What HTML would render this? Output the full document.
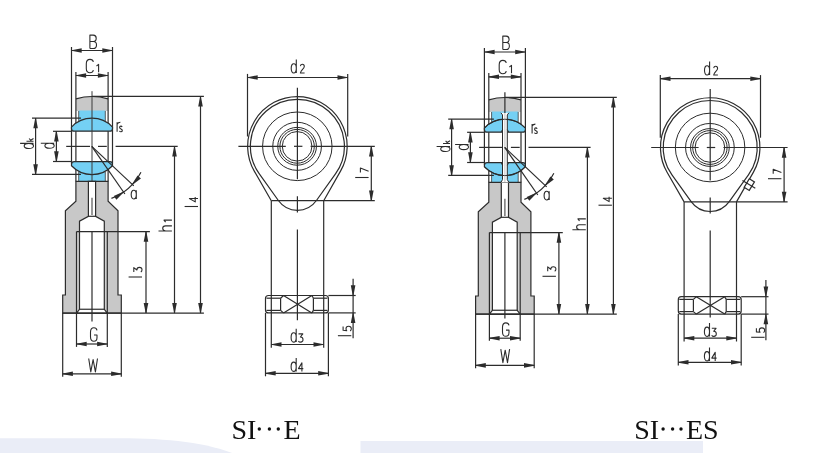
<!DOCTYPE html><html><head><meta charset="utf-8"><style>html,body{margin:0;padding:0;background:#fff;overflow:hidden}svg{display:block}.cap{filter:grayscale(1)}</style></head><body><svg width="840" height="453" viewBox="0 0 840 453"><defs><filter id="bl" x="-5%" y="-50%" width="110%" height="200%"><feGaussianBlur stdDeviation="0.7"/></filter></defs><g filter="url(#bl)"><path d="M-5,438.2L120,438.2C168,438.2 208,442.5 237,455L-5,456Z" fill="#eaedf7"/><rect x="360.5" y="441" width="342.5" height="15" fill="#eaedf7"/></g><g><path d="M75.9,98.9Q92.0,94.1 108.1,98.9V111H75.9Z" fill="#c8c8c8"/><path d="M75.9,98.9Q92.0,94.1 108.1,98.9" fill="none" stroke="#2c2c2c" stroke-width="1.2"/><rect x="78.7" y="110.5" width="26.6" height="16" fill="#74d0f4"/><rect x="78.7" y="166" width="26.6" height="15.6" fill="#74d0f4"/><line x1="78.7" y1="111" x2="78.7" y2="121" stroke="#3a3a3a" stroke-width="0.8"/><line x1="105.3" y1="111" x2="105.3" y2="121" stroke="#3a3a3a" stroke-width="0.8"/><line x1="78.7" y1="172" x2="78.7" y2="181.4" stroke="#3a3a3a" stroke-width="0.8"/><line x1="105.3" y1="172" x2="105.3" y2="181.4" stroke="#3a3a3a" stroke-width="0.8"/><line x1="71.5" y1="47" x2="71.5" y2="164" stroke="#2c2c2c" stroke-width="1.2"/><line x1="112.5" y1="47" x2="112.5" y2="164" stroke="#2c2c2c" stroke-width="1.2"/><line x1="75.9" y1="72" x2="75.9" y2="181.4" stroke="#2c2c2c" stroke-width="1.2"/><line x1="108.1" y1="72" x2="108.1" y2="181.4" stroke="#2c2c2c" stroke-width="1.2"/><path d="M74.2,131.2Q71.5,131.2 71.5,128.4L71.5,127.04A28.2,28.2 0 0 1 112.5,127.04L112.5,128.4Q112.5,131.2 109.8,131.2Z" fill="#74d0f4" stroke="#2c2c2c" stroke-width="1.2"/><path d="M74.2,161.6Q71.5,161.6 71.5,164.4L71.5,165.76A28.2,28.2 0 0 0 112.5,165.76L112.5,164.4Q112.5,161.6 109.8,161.6Z" fill="#74d0f4" stroke="#2c2c2c" stroke-width="1.2"/><path d="M75.9,181.4L108.1,181.4L108.1,201.3L118,210.8L118,295L121.3,295L121.3,313.1L62.7,313.1L62.7,295L65.4,295L65.4,210.8L75.9,201.3Z" fill="#c8c8c8" stroke="#2c2c2c" stroke-width="1.2"/><rect x="76.5" y="231.6" width="30.8" height="81.5" fill="#d0d0d0"/><path d="M88.4,181.4L95.6,181.4L95.6,216.3L104.3,221.1L104.3,309.25L107.3,313.1L76.5,313.1L79.5,309.25L79.5,221.1L88.4,216.3Z" fill="#ffffff" stroke="#2c2c2c" stroke-width="1.2"/><line x1="88.4" y1="216.3" x2="95.6" y2="216.3" stroke="#2c2c2c" stroke-width="1.2"/><line x1="76.5" y1="231.6" x2="76.5" y2="313.1" stroke="#2c2c2c" stroke-width="1.2"/><line x1="107.3" y1="231.6" x2="107.3" y2="313.1" stroke="#2c2c2c" stroke-width="1.2"/><line x1="79.5" y1="309.25" x2="104.3" y2="309.25" stroke="#2c2c2c" stroke-width="1.2"/><line x1="71.5" y1="50.5" x2="112.5" y2="50.5" stroke="#2c2c2c" stroke-width="1.2"/><polygon points="71.5,50.15 81.7,48.2 81.7,52.8 71.5,50.85" fill="#2c2c2c"/><polygon points="112.5,50.85 102.3,52.8 102.3,48.2 112.5,50.15" fill="#2c2c2c"/><line x1="75.9" y1="75.5" x2="108.1" y2="75.5" stroke="#2c2c2c" stroke-width="1.2"/><polygon points="75.9,75.15 86.1,73.2 86.1,77.8 75.9,75.85" fill="#2c2c2c"/><polygon points="108.1,75.85 97.9,77.8 97.9,73.2 108.1,75.15" fill="#2c2c2c"/><line x1="92" y1="91.2" x2="92" y2="181.4" stroke="#3a3a3a" stroke-width="1.0"/><line x1="92" y1="197.8" x2="92" y2="215" stroke="#555" stroke-width="1.2"/><line x1="92" y1="231.6" x2="92" y2="321.5" stroke="#2c2c2c" stroke-width="1.2"/><line x1="66.2" y1="146.4" x2="90" y2="146.4" stroke="#2c2c2c" stroke-width="1.2"/><line x1="98" y1="146.4" x2="106.8" y2="146.4" stroke="#2c2c2c" stroke-width="1.2"/><line x1="115.6" y1="146.4" x2="177.7" y2="146.4" stroke="#2c2c2c" stroke-width="1.2"/><line x1="92" y1="96.45" x2="203.9" y2="96.45" stroke="#2c2c2c" stroke-width="1.2"/><line x1="32" y1="118.1" x2="81" y2="118.1" stroke="#2c2c2c" stroke-width="1.2"/><line x1="32" y1="174.4" x2="81" y2="174.4" stroke="#2c2c2c" stroke-width="1.2"/><line x1="53" y1="131.3" x2="72" y2="131.3" stroke="#2c2c2c" stroke-width="1.2"/><line x1="53" y1="161.5" x2="72" y2="161.5" stroke="#2c2c2c" stroke-width="1.2"/><line x1="35.6" y1="118.1" x2="35.6" y2="174.4" stroke="#2c2c2c" stroke-width="1.2"/><polygon points="35.95,118.1 37.9,128.3 33.3,128.3 35.25,118.1" fill="#2c2c2c"/><polygon points="35.25,174.4 33.3,164.2 37.9,164.2 35.95,174.4" fill="#2c2c2c"/><line x1="56.4" y1="131.3" x2="56.4" y2="161.5" stroke="#2c2c2c" stroke-width="1.2"/><polygon points="56.75,131.3 58.7,141.5 54.1,141.5 56.05,131.3" fill="#2c2c2c"/><polygon points="56.05,161.5 54.1,151.3 58.7,151.3 56.75,161.5" fill="#2c2c2c"/><line x1="76.5" y1="231.6" x2="149.9" y2="231.6" stroke="#2c2c2c" stroke-width="1.2"/><line x1="62.7" y1="313.1" x2="203.9" y2="313.1" stroke="#2c2c2c" stroke-width="1.2"/><line x1="146" y1="231.6" x2="146" y2="313.1" stroke="#2c2c2c" stroke-width="1.2"/><polygon points="146.35,231.6 148.3,241.8 143.7,241.8 145.65,231.6" fill="#2c2c2c"/><polygon points="145.65,313.1 143.7,302.9 148.3,302.9 146.35,313.1" fill="#2c2c2c"/><line x1="174.5" y1="146.4" x2="174.5" y2="313.1" stroke="#2c2c2c" stroke-width="1.2"/><polygon points="174.85,146.4 176.8,156.6 172.2,156.6 174.15,146.4" fill="#2c2c2c"/><polygon points="174.15,313.1 172.2,302.9 176.8,302.9 174.85,313.1" fill="#2c2c2c"/><line x1="200.5" y1="96.4" x2="200.5" y2="313.1" stroke="#2c2c2c" stroke-width="1.2"/><polygon points="200.85,96.4 202.8,106.6 198.2,106.6 200.15,96.4" fill="#2c2c2c"/><polygon points="200.15,313.1 198.2,302.9 202.8,302.9 200.85,313.1" fill="#2c2c2c"/><line x1="76.5" y1="313.1" x2="76.5" y2="346.9" stroke="#2c2c2c" stroke-width="1.2"/><line x1="107.3" y1="313.1" x2="107.3" y2="346.9" stroke="#2c2c2c" stroke-width="1.2"/><line x1="76.5" y1="344" x2="107.3" y2="344" stroke="#2c2c2c" stroke-width="1.2"/><polygon points="76.5,343.65 86.7,341.7 86.7,346.3 76.5,344.35" fill="#2c2c2c"/><polygon points="107.3,344.35 97.1,346.3 97.1,341.7 107.3,343.65" fill="#2c2c2c"/><line x1="62.7" y1="313.1" x2="62.7" y2="376.7" stroke="#2c2c2c" stroke-width="1.2"/><line x1="121.3" y1="313.1" x2="121.3" y2="376.7" stroke="#2c2c2c" stroke-width="1.2"/><line x1="62.7" y1="373.8" x2="121.3" y2="373.8" stroke="#2c2c2c" stroke-width="1.2"/><polygon points="62.7,373.45 72.9,371.5 72.9,376.1 62.7,374.15" fill="#2c2c2c"/><polygon points="121.3,374.15 111.1,376.1 111.1,371.5 121.3,373.45" fill="#2c2c2c"/><line x1="91.8" y1="146.4" x2="124.9" y2="194.03" stroke="#2c2c2c" stroke-width="1.2"/><line x1="91.8" y1="146.4" x2="133.79" y2="185.83" stroke="#2c2c2c" stroke-width="1.2"/><path d="M111.42,198.32A55.5,55.5 0 0 0 140.94,172.2" fill="none" stroke="#2c2c2c" stroke-width="1.2"/><polygon points="123.67,192.26 116.41,199.68 113.79,195.91 123.27,191.69" fill="#2c2c2c"/><polygon points="132,184.15 137.56,175.38 140.92,178.53 132.51,184.63" fill="#2c2c2c"/><path d="M0.5,0V-13.4H3.9C6.2,-13.4 6.8,-12 6.8,-10.3C6.8,-8.4 5.8,-7 3.9,-7H0.5M3.9,-7C6.2,-7 7.1,-5.6 7.1,-3.6C7.1,-1.4 6,0 3.9,0H0.5" transform="translate(89.4,48.5)" fill="none" stroke="#2c2c2c" stroke-width="1.10" stroke-linejoin="round"/><path d="M7.6,-10.9C7.2,-12.7 6,-13.4 4.2,-13.4C1.8,-13.4 0.5,-12 0.5,-9V-4.4C0.5,-1.4 1.8,0 4.2,0C6,0 7.2,-0.8 7.6,-2.6" transform="translate(85.8,72.8)" fill="none" stroke="#2c2c2c" stroke-width="1.10" stroke-linejoin="round"/><path d="M0.3,-6.3L2.4,-7.9V0" transform="translate(96.2,72.3)" fill="none" stroke="#2c2c2c" stroke-width="1.10" stroke-linejoin="round"/><path d="M5.6,-13.4V0M5.6,-4.7C5.6,-7.4 4.6,-9.3 3.05,-9.3C1.5,-9.3 0.5,-7.4 0.5,-4.7C0.5,-1.9 1.5,0 3.05,0C4.6,0 5.6,-1.9 5.6,-4.7" transform="translate(33.5,149) rotate(-90)" fill="none" stroke="#2c2c2c" stroke-width="1.10" stroke-linejoin="round"/><path d="M0.5,-7V0M3.2,-4.4L0.6,-2M1.5,-2.8L3.2,0" transform="translate(33.5,141.7) rotate(-90)" fill="none" stroke="#2c2c2c" stroke-width="1.10" stroke-linejoin="round"/><path d="M5.6,-13.4V0M5.6,-4.7C5.6,-7.4 4.6,-9.3 3.05,-9.3C1.5,-9.3 0.5,-7.4 0.5,-4.7C0.5,-1.9 1.5,0 3.05,0C4.6,0 5.6,-1.9 5.6,-4.7" transform="translate(54.2,148.8) rotate(-90)" fill="none" stroke="#2c2c2c" stroke-width="1.10" stroke-linejoin="round"/><path d="M0.5,-9.4V0M0.5,-7.6C1.2,-8.8 2.4,-9.4 3.8,-9.4" transform="translate(116.6,131.7)" fill="none" stroke="#2c2c2c" stroke-width="1.10" stroke-linejoin="round"/><path d="M2.9,-4.7C2.7,-5.3 2.3,-5.6 1.6,-5.6C0.9,-5.6 0.4,-5.1 0.4,-4.2C0.4,-2.4 3.1,-3.1 3.1,-1.3C3.1,-0.4 2.6,0 1.7,0C1,0 0.5,-0.3 0.3,-0.9" transform="translate(119.2,131.7)" fill="none" stroke="#2c2c2c" stroke-width="1.10" stroke-linejoin="round"/><path d="M5.6,-8.8V0M5.6,-4.4C5.6,-7.1 4.6,-8.8 3.05,-8.8C1.5,-8.8 0.5,-7.1 0.5,-4.4C0.5,-1.7 1.5,0 3.05,0C4.6,0 5.6,-1.7 5.6,-4.4" transform="translate(130.7,199)" fill="none" stroke="#2c2c2c" stroke-width="1.10" stroke-linejoin="round"/><path d="M0.5,-13.4V0M0.5,-6.2C0.9,-8.5 2,-9.2 3.2,-9.2C4.7,-9.2 5.6,-8.4 5.6,-6.4V0" transform="translate(171.9,231.5) rotate(-90)" fill="none" stroke="#2c2c2c" stroke-width="1.10" stroke-linejoin="round"/><path d="M0.3,-6.3L2.4,-7.9V0" transform="translate(171.9,222.5) rotate(-90)" fill="none" stroke="#2c2c2c" stroke-width="1.10" stroke-linejoin="round"/><path d="M0.5,0V-13.4" transform="translate(198,207) rotate(-90)" fill="none" stroke="#2c2c2c" stroke-width="1.10" stroke-linejoin="round"/><path d="M3.9,0V-8.6L0.5,-2.8H5.3" transform="translate(198,202.4) rotate(-90)" fill="none" stroke="#2c2c2c" stroke-width="1.10" stroke-linejoin="round"/><path d="M0.5,0V-13.4" transform="translate(142,277.5) rotate(-90)" fill="none" stroke="#2c2c2c" stroke-width="1.10" stroke-linejoin="round"/><path d="M0.5,-8.2H4.8L2.4,-5.1C4.3,-5.1 5,-3.9 5,-2.6C5,-0.9 4,0 2.6,0C1.5,0 0.8,-0.4 0.4,-1.2" transform="translate(142,272.4) rotate(-90)" fill="none" stroke="#2c2c2c" stroke-width="1.10" stroke-linejoin="round"/><path d="M7,-10.9C6.7,-12.6 5.6,-13.4 3.9,-13.4C1.6,-13.4 0.5,-12 0.5,-9V-4.4C0.5,-1.4 1.6,0 3.9,0C5.9,0 7,-1.3 7,-3.8V-6.2H4" transform="translate(90,341.2)" fill="none" stroke="#2c2c2c" stroke-width="1.10" stroke-linejoin="round"/><path d="M0.3,-13.4L2.4,0L4.7,-12.4L7,0L9.1,-13.4" transform="translate(88.4,371.9)" fill="none" stroke="#2c2c2c" stroke-width="1.10" stroke-linejoin="round"/></g><g><path d="M271.3,200.7L254.28,171.11A49.75,49.75 0 1 1 340.65,170.89L323.7,200.7" fill="none" stroke="#2c2c2c" stroke-width="1.2"/><path d="M259.16,173.62A47.0,47.0 0 1 1 335.64,173.62L316.44,200.5A23.4,23.4 0 0 1 278.36,200.5Z" fill="none" stroke="#2c2c2c" stroke-width="1.2"/><ellipse cx="297.3" cy="146.3" rx="34.75" ry="34.3" fill="none" stroke="#2c2c2c" stroke-width="1.0"/><ellipse cx="297.1" cy="146.3" rx="24.35" ry="24.05" fill="none" stroke="#2c2c2c" stroke-width="1.0"/><ellipse cx="297.1" cy="146.3" rx="19.35" ry="18.9" fill="none" stroke="#2c2c2c" stroke-width="1.0"/><ellipse cx="297.1" cy="146.3" rx="17.2" ry="16.9" fill="none" stroke="#2c2c2c" stroke-width="1.0"/><ellipse cx="297.1" cy="146.3" rx="14.85" ry="14.75" fill="none" stroke="#2c2c2c" stroke-width="1.0"/><line x1="271.3" y1="200.7" x2="271.3" y2="347.8" stroke="#2c2c2c" stroke-width="1.2"/><line x1="323.7" y1="200.7" x2="323.7" y2="347.8" stroke="#2c2c2c" stroke-width="1.2"/><line x1="271.3" y1="200.7" x2="374.8" y2="200.7" stroke="#2c2c2c" stroke-width="1.2"/><line x1="238.4" y1="146.3" x2="285.8" y2="146.3" stroke="#2c2c2c" stroke-width="1.2"/><line x1="294" y1="146.3" x2="302.4" y2="146.3" stroke="#2c2c2c" stroke-width="1.2"/><line x1="310.6" y1="146.3" x2="374.8" y2="146.3" stroke="#2c2c2c" stroke-width="1.2"/><line x1="297.4" y1="87.8" x2="297.4" y2="179.2" stroke="#2c2c2c" stroke-width="1.2"/><line x1="297.4" y1="196.2" x2="297.4" y2="212.4" stroke="#2c2c2c" stroke-width="1.2"/><line x1="297.4" y1="229.4" x2="297.4" y2="320.3" stroke="#2c2c2c" stroke-width="1.2"/><line x1="247.5" y1="73.9" x2="247.5" y2="136.5" stroke="#2c2c2c" stroke-width="1.2"/><line x1="347.7" y1="73.9" x2="347.7" y2="136.5" stroke="#2c2c2c" stroke-width="1.2"/><line x1="247.5" y1="77.5" x2="347.7" y2="77.5" stroke="#2c2c2c" stroke-width="1.2"/><polygon points="247.5,77.15 257.7,75.2 257.7,79.8 247.5,77.85" fill="#2c2c2c"/><polygon points="347.7,77.85 337.5,79.8 337.5,75.2 347.7,77.15" fill="#2c2c2c"/><line x1="371.3" y1="146.3" x2="371.3" y2="200.7" stroke="#2c2c2c" stroke-width="1.2"/><polygon points="371.65,146.3 373.6,156.5 369,156.5 370.95,146.3" fill="#2c2c2c"/><polygon points="370.95,200.7 369,190.5 373.6,190.5 371.65,200.7" fill="#2c2c2c"/><path d="M268.5,295.5H325.4Q328.4,295.5 328.4,298.5V309.9Q328.4,312.9 325.4,312.9H268.5Q265.5,312.9 265.5,309.9V298.5Q265.5,295.5 268.5,295.5Z" fill="none" stroke="#2c2c2c" stroke-width="1.2"/><line x1="328.4" y1="295.5" x2="355.7" y2="295.5" stroke="#2c2c2c" stroke-width="1.2"/><line x1="328.4" y1="312.9" x2="355.7" y2="312.9" stroke="#2c2c2c" stroke-width="1.2"/><line x1="266.5" y1="298.2" x2="280.6" y2="298.2" stroke="#2c2c2c" stroke-width="1.2"/><line x1="266.5" y1="310.4" x2="280.6" y2="310.4" stroke="#2c2c2c" stroke-width="1.2"/><line x1="313.4" y1="298.2" x2="327.4" y2="298.2" stroke="#2c2c2c" stroke-width="1.2"/><line x1="313.4" y1="310.4" x2="327.4" y2="310.4" stroke="#2c2c2c" stroke-width="1.2"/><line x1="280.6" y1="298.2" x2="280.6" y2="310.4" stroke="#2c2c2c" stroke-width="1.2"/><line x1="313.4" y1="298.2" x2="313.4" y2="310.4" stroke="#2c2c2c" stroke-width="1.2"/><line x1="280.6" y1="298.2" x2="283.5" y2="295.5" stroke="#2c2c2c" stroke-width="1.2"/><line x1="280.6" y1="310.4" x2="283.5" y2="312.9" stroke="#2c2c2c" stroke-width="1.2"/><line x1="313.4" y1="298.2" x2="311.9" y2="295.5" stroke="#2c2c2c" stroke-width="1.2"/><line x1="313.4" y1="310.4" x2="311.9" y2="312.9" stroke="#2c2c2c" stroke-width="1.2"/><line x1="283.5" y1="295.5" x2="311.9" y2="312.9" stroke="#2c2c2c" stroke-width="1.2"/><line x1="283.5" y1="312.9" x2="311.9" y2="295.5" stroke="#2c2c2c" stroke-width="1.2"/><line x1="271.3" y1="344.5" x2="323.7" y2="344.5" stroke="#2c2c2c" stroke-width="1.2"/><polygon points="271.3,344.15 281.5,342.2 281.5,346.8 271.3,344.85" fill="#2c2c2c"/><polygon points="323.7,344.85 313.5,346.8 313.5,342.2 323.7,344.15" fill="#2c2c2c"/><line x1="265.5" y1="312.9" x2="265.5" y2="376.3" stroke="#2c2c2c" stroke-width="1.2"/><line x1="328.4" y1="312.9" x2="328.4" y2="376.3" stroke="#2c2c2c" stroke-width="1.2"/><line x1="265.5" y1="373.3" x2="328.4" y2="373.3" stroke="#2c2c2c" stroke-width="1.2"/><polygon points="265.5,372.95 275.7,371 275.7,375.6 265.5,373.65" fill="#2c2c2c"/><polygon points="328.4,373.65 318.2,375.6 318.2,371 328.4,372.95" fill="#2c2c2c"/><line x1="353.1" y1="278.8" x2="353.1" y2="338.2" stroke="#2c2c2c" stroke-width="1.2"/><polygon points="352.75,295.5 350.8,285.3 355.4,285.3 353.45,295.5" fill="#2c2c2c"/><polygon points="353.45,312.9 355.4,323.1 350.8,323.1 352.75,312.9" fill="#2c2c2c"/><path d="M5.6,-13.4V0M5.6,-4.7C5.6,-7.4 4.6,-9.3 3.05,-9.3C1.5,-9.3 0.5,-7.4 0.5,-4.7C0.5,-1.9 1.5,0 3.05,0C4.6,0 5.6,-1.9 5.6,-4.7" transform="translate(290.7,73)" fill="none" stroke="#2c2c2c" stroke-width="1.10" stroke-linejoin="round"/><path d="M0.5,-6.9C0.7,-8.3 1.5,-8.8 2.5,-8.8C3.7,-8.8 4.4,-8 4.4,-6.6C4.4,-4.6 0.5,-2 0.5,0H4.7" transform="translate(299.9,73)" fill="none" stroke="#2c2c2c" stroke-width="1.10" stroke-linejoin="round"/><path d="M0.5,0V-13.4" transform="translate(368.6,178) rotate(-90)" fill="none" stroke="#2c2c2c" stroke-width="1.10" stroke-linejoin="round"/><path d="M0.4,-8.2H5L1.8,0" transform="translate(368.6,173) rotate(-90)" fill="none" stroke="#2c2c2c" stroke-width="1.10" stroke-linejoin="round"/><path d="M5.6,-13.4V0M5.6,-4.7C5.6,-7.4 4.6,-9.3 3.05,-9.3C1.5,-9.3 0.5,-7.4 0.5,-4.7C0.5,-1.9 1.5,0 3.05,0C4.6,0 5.6,-1.9 5.6,-4.7" transform="translate(290.6,342.1)" fill="none" stroke="#2c2c2c" stroke-width="1.10" stroke-linejoin="round"/><path d="M0.5,-8.2H4.8L2.4,-5.1C4.3,-5.1 5,-3.9 5,-2.6C5,-0.9 4,0 2.6,0C1.5,0 0.8,-0.4 0.4,-1.2" transform="translate(298,342.1)" fill="none" stroke="#2c2c2c" stroke-width="1.10" stroke-linejoin="round"/><path d="M5.6,-13.4V0M5.6,-4.7C5.6,-7.4 4.6,-9.3 3.05,-9.3C1.5,-9.3 0.5,-7.4 0.5,-4.7C0.5,-1.9 1.5,0 3.05,0C4.6,0 5.6,-1.9 5.6,-4.7" transform="translate(290.6,371.4)" fill="none" stroke="#2c2c2c" stroke-width="1.10" stroke-linejoin="round"/><path d="M3.9,0V-8.6L0.5,-2.8H5.3" transform="translate(298,371.4)" fill="none" stroke="#2c2c2c" stroke-width="1.10" stroke-linejoin="round"/><path d="M0.5,0V-13.4" transform="translate(351.3,336.2) rotate(-90)" fill="none" stroke="#2c2c2c" stroke-width="1.10" stroke-linejoin="round"/><path d="M4.8,-8.2H1.1L0.8,-4.6C1.3,-5.1 2,-5.3 2.7,-5.3C4.2,-5.3 5.1,-4.2 5.1,-2.7C5.1,-1 4.1,0 2.6,0C1.6,0 0.9,-0.4 0.4,-1.1" transform="translate(351.3,331.4) rotate(-90)" fill="none" stroke="#2c2c2c" stroke-width="1.10" stroke-linejoin="round"/></g><g transform="translate(412.9,1)"><path d="M75.9,98.9Q92.0,94.1 108.1,98.9V111H75.9Z" fill="#c8c8c8"/><path d="M75.9,98.9Q92.0,94.1 108.1,98.9" fill="none" stroke="#2c2c2c" stroke-width="1.2"/><rect x="78.7" y="110.5" width="26.6" height="16" fill="#74d0f4"/><rect x="78.7" y="166" width="26.6" height="15.6" fill="#74d0f4"/><line x1="78.7" y1="111" x2="78.7" y2="121" stroke="#3a3a3a" stroke-width="0.8"/><line x1="105.3" y1="111" x2="105.3" y2="121" stroke="#3a3a3a" stroke-width="0.8"/><line x1="78.7" y1="172" x2="78.7" y2="181.4" stroke="#3a3a3a" stroke-width="0.8"/><line x1="105.3" y1="172" x2="105.3" y2="181.4" stroke="#3a3a3a" stroke-width="0.8"/><line x1="71.5" y1="47" x2="71.5" y2="164" stroke="#2c2c2c" stroke-width="1.2"/><line x1="112.5" y1="47" x2="112.5" y2="164" stroke="#2c2c2c" stroke-width="1.2"/><line x1="75.9" y1="72" x2="75.9" y2="181.4" stroke="#2c2c2c" stroke-width="1.2"/><line x1="108.1" y1="72" x2="108.1" y2="181.4" stroke="#2c2c2c" stroke-width="1.2"/><path d="M74.2,131.2Q71.5,131.2 71.5,128.4L71.5,127.04A28.2,28.2 0 0 1 112.5,127.04L112.5,128.4Q112.5,131.2 109.8,131.2Z" fill="#74d0f4" stroke="#2c2c2c" stroke-width="1.2"/><path d="M74.2,161.6Q71.5,161.6 71.5,164.4L71.5,165.76A28.2,28.2 0 0 0 112.5,165.76L112.5,164.4Q112.5,161.6 109.8,161.6Z" fill="#74d0f4" stroke="#2c2c2c" stroke-width="1.2"/><path d="M75.9,181.4L108.1,181.4L108.1,201.3L118,210.8L118,295L121.3,295L121.3,313.1L62.7,313.1L62.7,295L65.4,295L65.4,210.8L75.9,201.3Z" fill="#c8c8c8" stroke="#2c2c2c" stroke-width="1.2"/><rect x="76.5" y="231.6" width="30.8" height="81.5" fill="#d0d0d0"/><path d="M88.4,181.4L95.6,181.4L95.6,216.3L104.3,221.1L104.3,309.25L107.3,313.1L76.5,313.1L79.5,309.25L79.5,221.1L88.4,216.3Z" fill="#ffffff" stroke="#2c2c2c" stroke-width="1.2"/><line x1="88.4" y1="216.3" x2="95.6" y2="216.3" stroke="#2c2c2c" stroke-width="1.2"/><line x1="76.5" y1="231.6" x2="76.5" y2="313.1" stroke="#2c2c2c" stroke-width="1.2"/><line x1="107.3" y1="231.6" x2="107.3" y2="313.1" stroke="#2c2c2c" stroke-width="1.2"/><line x1="79.5" y1="309.25" x2="104.3" y2="309.25" stroke="#2c2c2c" stroke-width="1.2"/><polygon points="88,111.8 96,111.8 94.4,113.9 94.4,178.6 96,181.4 88,181.4 89.6,178.6 89.6,113.9" fill="#fff"/><path d="M88.0,111.8L89.6,113.9V178.6L88.0,181.4M96.0,111.8L94.4,113.9V178.6L96.0,181.4" fill="none" stroke="#2c2c2c" stroke-width="1.0"/><path d="M88.0,131.2L89.6,128.6M96.0,131.2L94.4,128.6M88.0,161.6L89.6,164.2M96.0,161.6L94.4,164.2" fill="none" stroke="#2c2c2c" stroke-width="0.9"/><path d="M71.5,127.04A28.2,28.2 0 0 1 112.5,127.04M71.5,165.76A28.2,28.2 0 0 0 112.5,165.76" fill="none" stroke="#2c2c2c" stroke-width="1.0"/><line x1="71.5" y1="51" x2="112.5" y2="51" stroke="#2c2c2c" stroke-width="1.2"/><polygon points="71.5,50.65 81.7,48.7 81.7,53.3 71.5,51.35" fill="#2c2c2c"/><polygon points="112.5,51.35 102.3,53.3 102.3,48.7 112.5,50.65" fill="#2c2c2c"/><line x1="75.9" y1="75.8" x2="108.1" y2="75.8" stroke="#2c2c2c" stroke-width="1.2"/><polygon points="75.9,75.45 86.1,73.5 86.1,78.1 75.9,76.15" fill="#2c2c2c"/><polygon points="108.1,76.15 97.9,78.1 97.9,73.5 108.1,75.45" fill="#2c2c2c"/><line x1="92" y1="91.2" x2="92" y2="112" stroke="#2c2c2c" stroke-width="1.2"/><line x1="92" y1="112" x2="92" y2="181.4" stroke="#999" stroke-width="0.6"/><line x1="92" y1="197.8" x2="92" y2="215" stroke="#555" stroke-width="1.2"/><line x1="92" y1="231.6" x2="92" y2="317.6" stroke="#2c2c2c" stroke-width="1.2"/><line x1="66.2" y1="146.4" x2="90" y2="146.4" stroke="#2c2c2c" stroke-width="1.2"/><line x1="98" y1="146.4" x2="106.8" y2="146.4" stroke="#2c2c2c" stroke-width="1.2"/><line x1="115.6" y1="146.4" x2="177.7" y2="146.4" stroke="#2c2c2c" stroke-width="1.2"/><line x1="92" y1="96.45" x2="203.9" y2="96.45" stroke="#2c2c2c" stroke-width="1.2"/><line x1="35.3" y1="118.1" x2="81" y2="118.1" stroke="#2c2c2c" stroke-width="1.2"/><line x1="35.3" y1="174.4" x2="81" y2="174.4" stroke="#2c2c2c" stroke-width="1.2"/><line x1="54.2" y1="131.3" x2="72" y2="131.3" stroke="#2c2c2c" stroke-width="1.2"/><line x1="54.2" y1="161.5" x2="72" y2="161.5" stroke="#2c2c2c" stroke-width="1.2"/><line x1="38.7" y1="118.1" x2="38.7" y2="174.4" stroke="#2c2c2c" stroke-width="1.2"/><polygon points="39.05,118.1 41,128.3 36.4,128.3 38.35,118.1" fill="#2c2c2c"/><polygon points="38.35,174.4 36.4,164.2 41,164.2 39.05,174.4" fill="#2c2c2c"/><line x1="57.5" y1="131.3" x2="57.5" y2="161.5" stroke="#2c2c2c" stroke-width="1.2"/><polygon points="57.85,131.3 59.8,141.5 55.2,141.5 57.15,131.3" fill="#2c2c2c"/><polygon points="57.15,161.5 55.2,151.3 59.8,151.3 57.85,161.5" fill="#2c2c2c"/><line x1="76.5" y1="231.6" x2="149.9" y2="231.6" stroke="#2c2c2c" stroke-width="1.2"/><line x1="62.7" y1="313.1" x2="203.9" y2="313.1" stroke="#2c2c2c" stroke-width="1.2"/><line x1="146" y1="231.6" x2="146" y2="313.1" stroke="#2c2c2c" stroke-width="1.2"/><polygon points="146.35,231.6 148.3,241.8 143.7,241.8 145.65,231.6" fill="#2c2c2c"/><polygon points="145.65,313.1 143.7,302.9 148.3,302.9 146.35,313.1" fill="#2c2c2c"/><line x1="174.5" y1="146.4" x2="174.5" y2="313.1" stroke="#2c2c2c" stroke-width="1.2"/><polygon points="174.85,146.4 176.8,156.6 172.2,156.6 174.15,146.4" fill="#2c2c2c"/><polygon points="174.15,313.1 172.2,302.9 176.8,302.9 174.85,313.1" fill="#2c2c2c"/><line x1="200.5" y1="96.4" x2="200.5" y2="313.1" stroke="#2c2c2c" stroke-width="1.2"/><polygon points="200.85,96.4 202.8,106.6 198.2,106.6 200.15,96.4" fill="#2c2c2c"/><polygon points="200.15,313.1 198.2,302.9 202.8,302.9 200.85,313.1" fill="#2c2c2c"/><line x1="76.5" y1="313.1" x2="76.5" y2="339.7" stroke="#2c2c2c" stroke-width="1.2"/><line x1="107.3" y1="313.1" x2="107.3" y2="339.7" stroke="#2c2c2c" stroke-width="1.2"/><line x1="76.5" y1="337.2" x2="107.3" y2="337.2" stroke="#2c2c2c" stroke-width="1.2"/><polygon points="76.5,336.85 86.7,334.9 86.7,339.5 76.5,337.55" fill="#2c2c2c"/><polygon points="107.3,337.55 97.1,339.5 97.1,334.9 107.3,336.85" fill="#2c2c2c"/><line x1="62.7" y1="313.1" x2="62.7" y2="367.3" stroke="#2c2c2c" stroke-width="1.2"/><line x1="121.3" y1="313.1" x2="121.3" y2="367.3" stroke="#2c2c2c" stroke-width="1.2"/><line x1="62.7" y1="364.4" x2="121.3" y2="364.4" stroke="#2c2c2c" stroke-width="1.2"/><polygon points="62.7,364.05 72.9,362.1 72.9,366.7 62.7,364.75" fill="#2c2c2c"/><polygon points="121.3,364.75 111.1,366.7 111.1,362.1 121.3,364.05" fill="#2c2c2c"/><line x1="91.8" y1="146.4" x2="124.9" y2="194.03" stroke="#2c2c2c" stroke-width="1.2"/><line x1="91.8" y1="146.4" x2="133.79" y2="185.83" stroke="#2c2c2c" stroke-width="1.2"/><path d="M111.42,198.32A55.5,55.5 0 0 0 140.94,172.2" fill="none" stroke="#2c2c2c" stroke-width="1.2"/><polygon points="123.67,192.26 116.41,199.68 113.79,195.91 123.27,191.69" fill="#2c2c2c"/><polygon points="132,184.15 137.56,175.38 140.92,178.53 132.51,184.63" fill="#2c2c2c"/><path d="M0.5,0V-13.4H3.9C6.2,-13.4 6.8,-12 6.8,-10.3C6.8,-8.4 5.8,-7 3.9,-7H0.5M3.9,-7C6.2,-7 7.1,-5.6 7.1,-3.6C7.1,-1.4 6,0 3.9,0H0.5" transform="translate(89.4,48.5)" fill="none" stroke="#2c2c2c" stroke-width="1.10" stroke-linejoin="round"/><path d="M7.6,-10.9C7.2,-12.7 6,-13.4 4.2,-13.4C1.8,-13.4 0.5,-12 0.5,-9V-4.4C0.5,-1.4 1.8,0 4.2,0C6,0 7.2,-0.8 7.6,-2.6" transform="translate(85.8,72.8)" fill="none" stroke="#2c2c2c" stroke-width="1.10" stroke-linejoin="round"/><path d="M0.3,-6.3L2.4,-7.9V0" transform="translate(96.2,72.3)" fill="none" stroke="#2c2c2c" stroke-width="1.10" stroke-linejoin="round"/><path d="M5.6,-13.4V0M5.6,-4.7C5.6,-7.4 4.6,-9.3 3.05,-9.3C1.5,-9.3 0.5,-7.4 0.5,-4.7C0.5,-1.9 1.5,0 3.05,0C4.6,0 5.6,-1.9 5.6,-4.7" transform="translate(37.1,151.05) rotate(-90)" fill="none" stroke="#2c2c2c" stroke-width="1.10" stroke-linejoin="round"/><path d="M0.5,-7V0M3.2,-4.4L0.6,-2M1.5,-2.8L3.2,0" transform="translate(37.1,143) rotate(-90)" fill="none" stroke="#2c2c2c" stroke-width="1.10" stroke-linejoin="round"/><path d="M5.6,-13.4V0M5.6,-4.7C5.6,-7.4 4.6,-9.3 3.05,-9.3C1.5,-9.3 0.5,-7.4 0.5,-4.7C0.5,-1.9 1.5,0 3.05,0C4.6,0 5.6,-1.9 5.6,-4.7" transform="translate(55.6,149.1) rotate(-90)" fill="none" stroke="#2c2c2c" stroke-width="1.10" stroke-linejoin="round"/><path d="M0.5,-9.4V0M0.5,-7.6C1.2,-8.8 2.4,-9.4 3.8,-9.4" transform="translate(118.7,132.5)" fill="none" stroke="#2c2c2c" stroke-width="1.10" stroke-linejoin="round"/><path d="M2.9,-4.7C2.7,-5.3 2.3,-5.6 1.6,-5.6C0.9,-5.6 0.4,-5.1 0.4,-4.2C0.4,-2.4 3.1,-3.1 3.1,-1.3C3.1,-0.4 2.6,0 1.7,0C1,0 0.5,-0.3 0.3,-0.9" transform="translate(121.3,132.5)" fill="none" stroke="#2c2c2c" stroke-width="1.10" stroke-linejoin="round"/><path d="M5.6,-8.8V0M5.6,-4.4C5.6,-7.1 4.6,-8.8 3.05,-8.8C1.5,-8.8 0.5,-7.1 0.5,-4.4C0.5,-1.7 1.5,0 3.05,0C4.6,0 5.6,-1.7 5.6,-4.4" transform="translate(130.7,199)" fill="none" stroke="#2c2c2c" stroke-width="1.10" stroke-linejoin="round"/><path d="M0.5,-13.4V0M0.5,-6.2C0.9,-8.5 2,-9.2 3.2,-9.2C4.7,-9.2 5.6,-8.4 5.6,-6.4V0" transform="translate(172.9,229.3) rotate(-90)" fill="none" stroke="#2c2c2c" stroke-width="1.10" stroke-linejoin="round"/><path d="M0.3,-6.3L2.4,-7.9V0" transform="translate(172.9,220.3) rotate(-90)" fill="none" stroke="#2c2c2c" stroke-width="1.10" stroke-linejoin="round"/><path d="M0.5,0V-13.4" transform="translate(199,204.7) rotate(-90)" fill="none" stroke="#2c2c2c" stroke-width="1.10" stroke-linejoin="round"/><path d="M3.9,0V-8.6L0.5,-2.8H5.3" transform="translate(199,201.1) rotate(-90)" fill="none" stroke="#2c2c2c" stroke-width="1.10" stroke-linejoin="round"/><path d="M0.5,0V-13.4" transform="translate(143,275.8) rotate(-90)" fill="none" stroke="#2c2c2c" stroke-width="1.10" stroke-linejoin="round"/><path d="M0.5,-8.2H4.8L2.4,-5.1C4.3,-5.1 5,-3.9 5,-2.6C5,-0.9 4,0 2.6,0C1.5,0 0.8,-0.4 0.4,-1.2" transform="translate(143,270.7) rotate(-90)" fill="none" stroke="#2c2c2c" stroke-width="1.10" stroke-linejoin="round"/><path d="M7,-10.9C6.7,-12.6 5.6,-13.4 3.9,-13.4C1.6,-13.4 0.5,-12 0.5,-9V-4.4C0.5,-1.4 1.6,0 3.9,0C5.9,0 7,-1.3 7,-3.8V-6.2H4" transform="translate(89.1,335.3)" fill="none" stroke="#2c2c2c" stroke-width="1.10" stroke-linejoin="round"/><path d="M0.3,-13.4L2.4,0L4.7,-12.4L7,0L9.1,-13.4" transform="translate(87.6,361.6)" fill="none" stroke="#2c2c2c" stroke-width="1.10" stroke-linejoin="round"/></g><g transform="translate(412.8,1.2)"><path d="M271.3,200.7L254.28,171.11A49.75,49.75 0 1 1 340.65,170.89L323.7,200.7" fill="none" stroke="#2c2c2c" stroke-width="1.2"/><path d="M259.16,173.62A47.0,47.0 0 1 1 335.64,173.62L316.44,200.5A23.4,23.4 0 0 1 278.36,200.5Z" fill="none" stroke="#2c2c2c" stroke-width="1.2"/><ellipse cx="297.3" cy="146.3" rx="34.75" ry="34.3" fill="none" stroke="#2c2c2c" stroke-width="1.0"/><ellipse cx="297.1" cy="146.3" rx="24.35" ry="24.05" fill="none" stroke="#2c2c2c" stroke-width="1.0"/><ellipse cx="297.1" cy="146.3" rx="19.35" ry="18.9" fill="none" stroke="#2c2c2c" stroke-width="1.0"/><ellipse cx="297.1" cy="146.3" rx="17.2" ry="16.9" fill="none" stroke="#2c2c2c" stroke-width="1.0"/><ellipse cx="297.1" cy="146.3" rx="14.85" ry="14.75" fill="none" stroke="#2c2c2c" stroke-width="1.0"/><line x1="271.3" y1="200.7" x2="271.3" y2="340.3" stroke="#2c2c2c" stroke-width="1.2"/><line x1="323.7" y1="200.7" x2="323.7" y2="340.3" stroke="#2c2c2c" stroke-width="1.2"/><line x1="271.3" y1="200.7" x2="374.8" y2="200.7" stroke="#2c2c2c" stroke-width="1.2"/><line x1="238.4" y1="146.3" x2="285.8" y2="146.3" stroke="#2c2c2c" stroke-width="1.2"/><line x1="294" y1="146.3" x2="302.4" y2="146.3" stroke="#2c2c2c" stroke-width="1.2"/><line x1="310.6" y1="146.3" x2="374.8" y2="146.3" stroke="#2c2c2c" stroke-width="1.2"/><line x1="297.4" y1="87.8" x2="297.4" y2="179.2" stroke="#2c2c2c" stroke-width="1.2"/><line x1="297.4" y1="196.2" x2="297.4" y2="212.4" stroke="#2c2c2c" stroke-width="1.2"/><line x1="297.4" y1="229.4" x2="297.4" y2="316.2" stroke="#2c2c2c" stroke-width="1.2"/><line x1="247.5" y1="73.9" x2="247.5" y2="136.5" stroke="#2c2c2c" stroke-width="1.2"/><line x1="347.7" y1="73.9" x2="347.7" y2="136.5" stroke="#2c2c2c" stroke-width="1.2"/><line x1="247.5" y1="77.5" x2="347.7" y2="77.5" stroke="#2c2c2c" stroke-width="1.2"/><polygon points="247.5,77.15 257.7,75.2 257.7,79.8 247.5,77.85" fill="#2c2c2c"/><polygon points="347.7,77.85 337.5,79.8 337.5,75.2 347.7,77.15" fill="#2c2c2c"/><line x1="371.3" y1="146.3" x2="371.3" y2="200.7" stroke="#2c2c2c" stroke-width="1.2"/><polygon points="371.65,146.3 373.6,156.5 369,156.5 370.95,146.3" fill="#2c2c2c"/><polygon points="370.95,200.7 369,190.5 373.6,190.5 371.65,200.7" fill="#2c2c2c"/><path d="M268.5,295.5H325.4Q328.4,295.5 328.4,298.5V309.9Q328.4,312.9 325.4,312.9H268.5Q265.5,312.9 265.5,309.9V298.5Q265.5,295.5 268.5,295.5Z" fill="none" stroke="#2c2c2c" stroke-width="1.2"/><line x1="328.4" y1="295.5" x2="355.7" y2="295.5" stroke="#2c2c2c" stroke-width="1.2"/><line x1="328.4" y1="312.9" x2="355.7" y2="312.9" stroke="#2c2c2c" stroke-width="1.2"/><line x1="266.5" y1="298.2" x2="280.6" y2="298.2" stroke="#2c2c2c" stroke-width="1.2"/><line x1="266.5" y1="310.4" x2="280.6" y2="310.4" stroke="#2c2c2c" stroke-width="1.2"/><line x1="313.4" y1="298.2" x2="327.4" y2="298.2" stroke="#2c2c2c" stroke-width="1.2"/><line x1="313.4" y1="310.4" x2="327.4" y2="310.4" stroke="#2c2c2c" stroke-width="1.2"/><line x1="280.6" y1="298.2" x2="280.6" y2="310.4" stroke="#2c2c2c" stroke-width="1.2"/><line x1="313.4" y1="298.2" x2="313.4" y2="310.4" stroke="#2c2c2c" stroke-width="1.2"/><line x1="280.6" y1="298.2" x2="283.5" y2="295.5" stroke="#2c2c2c" stroke-width="1.2"/><line x1="280.6" y1="310.4" x2="283.5" y2="312.9" stroke="#2c2c2c" stroke-width="1.2"/><line x1="313.4" y1="298.2" x2="311.9" y2="295.5" stroke="#2c2c2c" stroke-width="1.2"/><line x1="313.4" y1="310.4" x2="311.9" y2="312.9" stroke="#2c2c2c" stroke-width="1.2"/><line x1="283.5" y1="295.5" x2="311.9" y2="312.9" stroke="#2c2c2c" stroke-width="1.2"/><line x1="283.5" y1="312.9" x2="311.9" y2="295.5" stroke="#2c2c2c" stroke-width="1.2"/><line x1="271.3" y1="337" x2="323.7" y2="337" stroke="#2c2c2c" stroke-width="1.2"/><polygon points="271.3,336.65 281.5,334.7 281.5,339.3 271.3,337.35" fill="#2c2c2c"/><polygon points="323.7,337.35 313.5,339.3 313.5,334.7 323.7,336.65" fill="#2c2c2c"/><line x1="265.5" y1="312.9" x2="265.5" y2="364.4" stroke="#2c2c2c" stroke-width="1.2"/><line x1="328.4" y1="312.9" x2="328.4" y2="364.4" stroke="#2c2c2c" stroke-width="1.2"/><line x1="265.5" y1="361.1" x2="328.4" y2="361.1" stroke="#2c2c2c" stroke-width="1.2"/><polygon points="265.5,360.75 275.7,358.8 275.7,363.4 265.5,361.45" fill="#2c2c2c"/><polygon points="328.4,361.45 318.2,363.4 318.2,358.8 328.4,360.75" fill="#2c2c2c"/><line x1="353.1" y1="278.8" x2="353.1" y2="339" stroke="#2c2c2c" stroke-width="1.2"/><polygon points="352.75,295.5 350.8,285.3 355.4,285.3 353.45,295.5" fill="#2c2c2c"/><polygon points="353.45,312.9 355.4,323.1 350.8,323.1 352.75,312.9" fill="#2c2c2c"/><path d="M5.6,-13.4V0M5.6,-4.7C5.6,-7.4 4.6,-9.3 3.05,-9.3C1.5,-9.3 0.5,-7.4 0.5,-4.7C0.5,-1.9 1.5,0 3.05,0C4.6,0 5.6,-1.9 5.6,-4.7" transform="translate(291.2,73.8)" fill="none" stroke="#2c2c2c" stroke-width="1.10" stroke-linejoin="round"/><path d="M0.5,-6.9C0.7,-8.3 1.5,-8.8 2.5,-8.8C3.7,-8.8 4.4,-8 4.4,-6.6C4.4,-4.6 0.5,-2 0.5,0H4.7" transform="translate(300.4,73.8)" fill="none" stroke="#2c2c2c" stroke-width="1.10" stroke-linejoin="round"/><path d="M0.5,0V-13.4" transform="translate(368.6,178) rotate(-90)" fill="none" stroke="#2c2c2c" stroke-width="1.10" stroke-linejoin="round"/><path d="M0.4,-8.2H5L1.8,0" transform="translate(368.6,173) rotate(-90)" fill="none" stroke="#2c2c2c" stroke-width="1.10" stroke-linejoin="round"/><path d="M5.6,-13.4V0M5.6,-4.7C5.6,-7.4 4.6,-9.3 3.05,-9.3C1.5,-9.3 0.5,-7.4 0.5,-4.7C0.5,-1.9 1.5,0 3.05,0C4.6,0 5.6,-1.9 5.6,-4.7" transform="translate(291.1,335.2)" fill="none" stroke="#2c2c2c" stroke-width="1.10" stroke-linejoin="round"/><path d="M0.5,-8.2H4.8L2.4,-5.1C4.3,-5.1 5,-3.9 5,-2.6C5,-0.9 4,0 2.6,0C1.5,0 0.8,-0.4 0.4,-1.2" transform="translate(298.5,335.2)" fill="none" stroke="#2c2c2c" stroke-width="1.10" stroke-linejoin="round"/><path d="M5.6,-13.4V0M5.6,-4.7C5.6,-7.4 4.6,-9.3 3.05,-9.3C1.5,-9.3 0.5,-7.4 0.5,-4.7C0.5,-1.9 1.5,0 3.05,0C4.6,0 5.6,-1.9 5.6,-4.7" transform="translate(291.1,359.7)" fill="none" stroke="#2c2c2c" stroke-width="1.10" stroke-linejoin="round"/><path d="M3.9,0V-8.6L0.5,-2.8H5.3" transform="translate(298.5,359.7)" fill="none" stroke="#2c2c2c" stroke-width="1.10" stroke-linejoin="round"/><path d="M0.5,0V-13.4" transform="translate(351.8,336.6) rotate(-90)" fill="none" stroke="#2c2c2c" stroke-width="1.10" stroke-linejoin="round"/><path d="M4.8,-8.2H1.1L0.8,-4.6C1.3,-5.1 2,-5.3 2.7,-5.3C4.2,-5.3 5.1,-4.2 5.1,-2.7C5.1,-1 4.1,0 2.6,0C1.6,0 0.9,-0.4 0.4,-1.1" transform="translate(351.8,331.8) rotate(-90)" fill="none" stroke="#2c2c2c" stroke-width="1.10" stroke-linejoin="round"/><polygon points="336.53,177.57 341.66,180.68 336.47,189.23 331.34,186.12" fill="#fff" stroke="#2c2c2c" stroke-width="1.2"/><line x1="329.66" y1="179.25" x2="342.49" y2="187.03" stroke="#2c2c2c" stroke-width="1.2"/></g><g class="cap"><text x="231.5" y="439" font-family="Liberation Serif" font-size="28" fill="#111">SI</text><text x="283.5" y="439" font-family="Liberation Serif" font-size="28" fill="#111">E</text><circle cx="259.3" cy="429" r="1.7" fill="#111"/><circle cx="269.4" cy="429" r="1.7" fill="#111"/><circle cx="278.3" cy="429" r="1.7" fill="#111"/><text x="634.3" y="439" font-family="Liberation Serif" font-size="28" fill="#111">SI</text><text x="686" y="439" font-family="Liberation Serif" font-size="28" fill="#111">ES</text><circle cx="663.1" cy="429" r="1.7" fill="#111"/><circle cx="672.6" cy="429" r="1.7" fill="#111"/><circle cx="681.0" cy="429" r="1.7" fill="#111"/></g></svg></body></html>
